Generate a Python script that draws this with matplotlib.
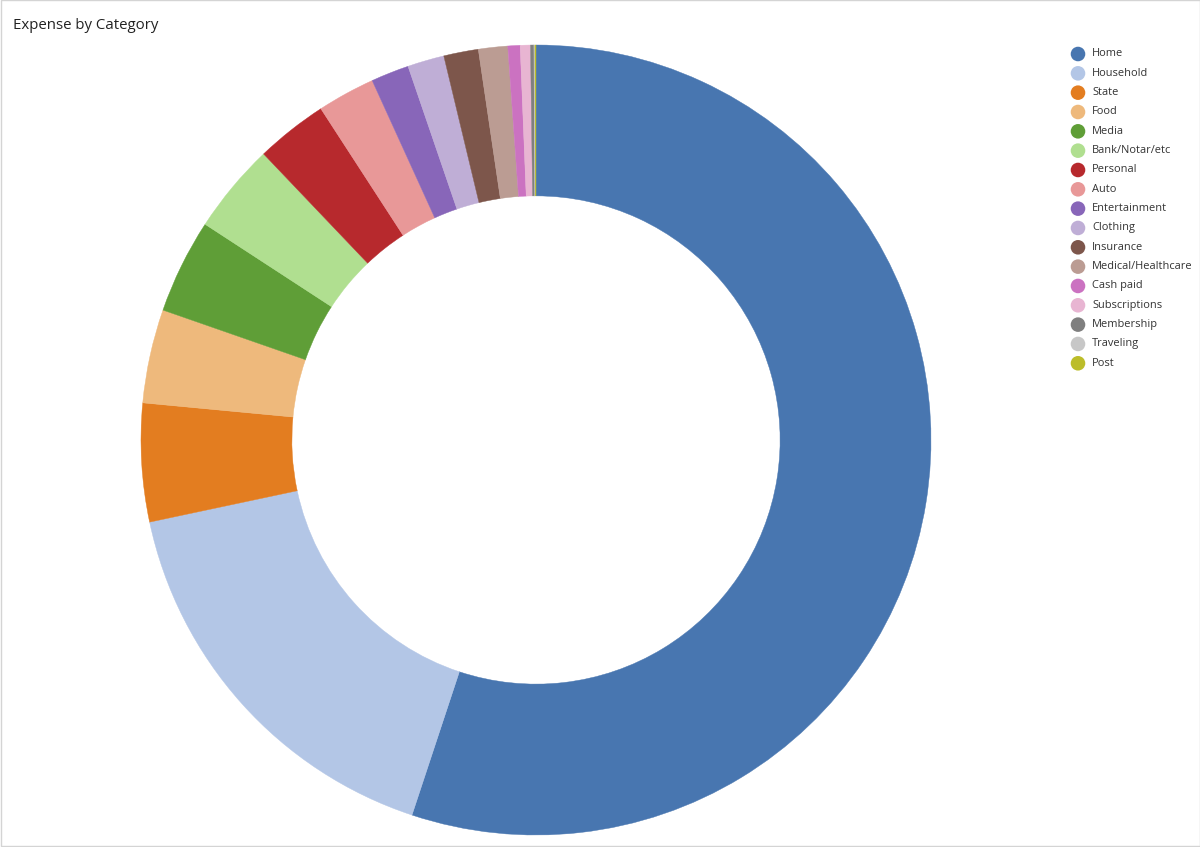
import matplotlib
matplotlib.use("Agg")
import matplotlib.pyplot as plt
from matplotlib.patches import Rectangle

categories = ["Home", "Household", "State", "Food", "Media", "Bank/Notar/etc",
              "Personal", "Auto", "Entertainment", "Clothing", "Insurance",
              "Medical/Healthcare", "Cash paid", "Subscriptions", "Membership",
              "Traveling", "Post"]
values = [198.3, 59.7, 17.4, 13.8, 13.9, 13.3, 10.6, 8.5, 5.6, 5.4, 5.1,
          4.3, 1.8, 1.5, 0.5, 0.15, 0.15]
colors = ["#4876b0", "#b3c6e6", "#e37d20", "#eeb97c", "#5f9e37", "#b0df90",
          "#b7292d", "#e89898", "#8866b9", "#bfaed6", "#7d564b", "#bb9c93",
          "#cb72c1", "#e8b5d2", "#7f7f7f", "#c7c7c7", "#bcbd2a"]

W, H = 1200, 847
fig = plt.figure(figsize=(W / 100, H / 100), dpi=100)
fig.patch.set_facecolor("white")

cx, cy, r = 536, 440, 395
ax = fig.add_axes([(cx - r) / W, (H - cy - r) / H, 2 * r / W, 2 * r / H])
wedges, _ = ax.pie(values, colors=colors, startangle=90, counterclock=False,
                   radius=1.0, wedgeprops=dict(width=0.382, edgecolor="none", linewidth=0))
for w in wedges:
    w.set_edgecolor(w.get_facecolor())
    w.set_linewidth(0.3)
ax.set_xlim(-1, 1)
ax.set_ylim(-1, 1)
ax.set_aspect("equal")
ax.axis("off")

ov = fig.add_axes([0, 0, 1, 1], facecolor="none")
ov.set_xlim(0, W)
ov.set_ylim(H, 0)
ov.axis("off")
ov.add_patch(Rectangle((0.5, 0.5), W - 1, H - 1, fill=False, edgecolor="#d4d4d4", linewidth=1))
ov.text(13, 25.5, "Expense by Category", fontsize=10.8, family="Open Sans",
        color="#222222", va="center", ha="left")

for i, (cat, col) in enumerate(zip(categories, colors)):
    y = 54 + i * 19.33
    ov.scatter([1078], [y], s=110, color=col, edgecolors="none")
    ov.text(1092, y, cat, fontsize=7.9, family="Open Sans", color="#333333",
            va="center", ha="left")

fig.savefig("out.png", dpi=100)
